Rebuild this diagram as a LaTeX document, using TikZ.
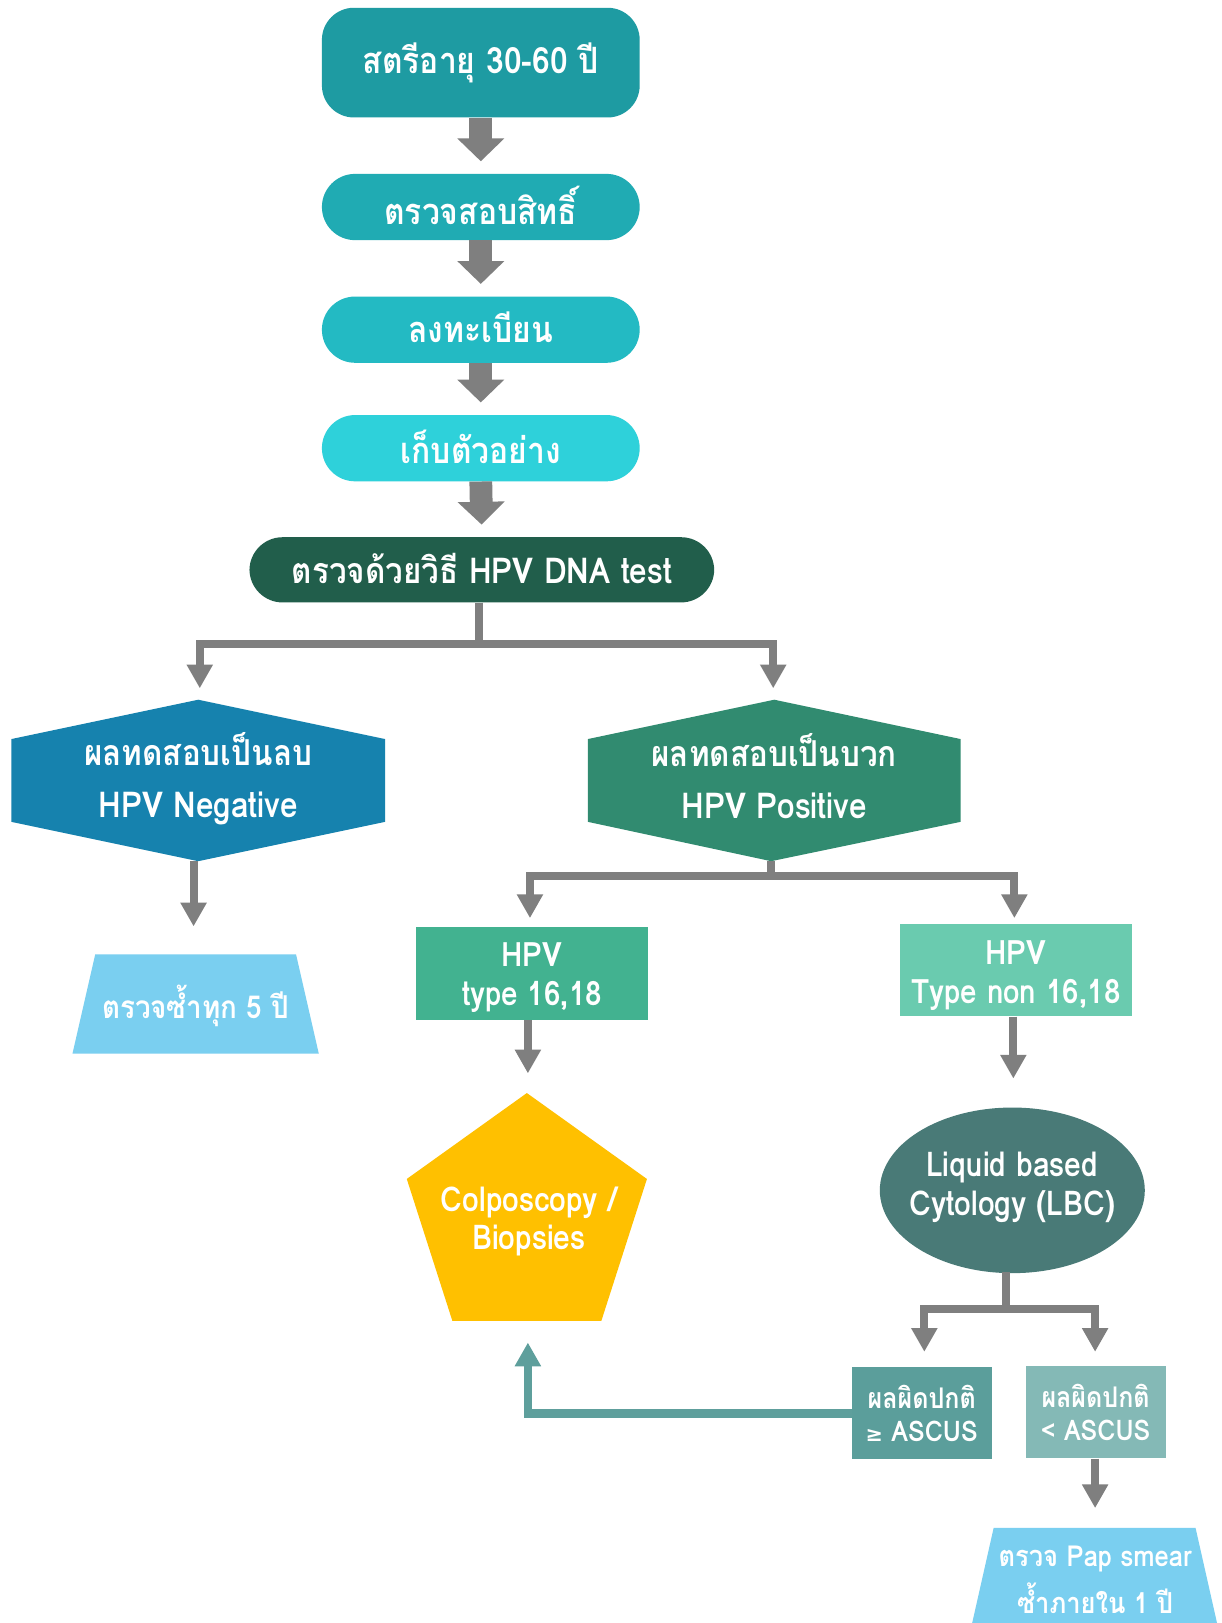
\documentclass[tikz,border=0pt]{standalone}
\usepackage{fontspec}
\newfontfamily\thf[Script=Thai,FakeStretch=0.88]{Loma}
\newfontfamily\symf{DejaVu Sans}
\usetikzlibrary{arrows.meta,shapes.geometric}
\definecolor{cA}{HTML}{1E9BA2}
\definecolor{cB}{HTML}{20ABB3}
\definecolor{cC}{HTML}{23BAC3}
\definecolor{cD}{HTML}{2ED1DA}
\definecolor{cE}{HTML}{215E4B}
\definecolor{cNeg}{HTML}{1682AE}
\definecolor{cPos}{HTML}{318B70}
\definecolor{cT1}{HTML}{42B290}
\definecolor{cT2}{HTML}{6ACBAF}
\definecolor{cPent}{HTML}{FFC000}
\definecolor{cLbc}{HTML}{497A77}
\definecolor{cGe}{HTML}{5B9E9B}
\definecolor{cLt}{HTML}{84B9B6}
\definecolor{cSky}{HTML}{7ACFF0}
\definecolor{cGray}{HTML}{7F7F7F}
\definecolor{cRet}{HTML}{5E9F9C}
\begin{document}
\begin{tikzpicture}[x=1pt,y=-1pt,
  txt/.style={text=white, align=center, inner sep=0pt},
  pill/.style={txt, rounded corners=32pt, minimum width=307pt, minimum height=64pt,
    font=\thf\bfseries\fontsize{35}{40}\selectfont},
  bigarrow/.style={draw=cGray, line width=22pt, -{Triangle[width=44pt,length=22pt]}, shorten >=12pt},
  thinarrow/.style={draw=cGray, line width=7.7pt, -{Triangle[width=24pt,length=23pt]}},
  retarrow/.style={draw=cRet, line width=8pt, -{Triangle[width=24pt,length=23pt]}},
  rectbox/.style={inner sep=0pt, minimum width=224pt, minimum height=89pt},
  recttext/.style={txt, font=\thf\bfseries\fontsize{32.5}{38}\selectfont},
  smallbox/.style={txt, minimum width=135pt, minimum height=89pt, font=\thf\bfseries\fontsize{27.5}{32}\selectfont}
]
\useasboundingbox (0,0) rectangle (1180,1568);
\fill[white] (0,0) rectangle (1180,1568);

% top column
\node[pill, fill=cA, rounded corners=31pt, minimum height=106pt] (b1) at (464.5,60.5) {สตรีอายุ 30-60 ปี};
\node[pill, fill=cB] (b2) at (464.5,200) {\raisebox{4pt}{ตรวจสอบสิทธิ์}};
\node[pill, fill=cC] (b3) at (464.5,318.5) {\raisebox{4pt}{ลงทะเบียน}};
\node[pill, fill=cD] (b4) at (464.5,433) {\raisebox{3pt}{เก็บตัวอย่าง}};
\node[pill, fill=cE, minimum width=449pt, minimum height=63pt, font=\thf\bfseries\fontsize{34.5}{40}\selectfont] (b5) at (465.5,550.5) {\raisebox{2pt}{ตรวจด้วยวิธี HPV DNA test}};

\draw[bigarrow] (b1.south) -- (b2.north);
\draw[bigarrow] (b2.south) -- (b3.north);
\draw[bigarrow] (b3.south) -- (b4.north);
\draw[bigarrow] (b4.south) -- (b5.north);

% hexagons
\fill[cNeg] (11,714) -- (191.5,676) -- (372,714) -- (372,794) -- (191.5,832) -- (11,794) -- cycle;
\fill[cPos] (568,714) -- (748,676) -- (928,714) -- (928,794) -- (745,832) -- (568,794) -- cycle;
\node[txt, font=\thf\bfseries\fontsize{34.5}{50}\selectfont] (neg) at (191.5,752) {ผลทดสอบเป็นลบ\\HPV Negative};
\node[txt, font=\thf\bfseries\fontsize{34.5}{50}\selectfont] (pos) at (748,750) {ผลทดสอบเป็นบวก\\HPV Positive};
\coordinate (negin) at (193,665);
\coordinate (posin) at (747,665);
\coordinate (negout) at (187,832);
\coordinate (posout) at (745,832);
\coordinate (split1) at (463,622);

\draw[thinarrow] (b5.south -| split1) -- (split1) -| (negin);
\draw[thinarrow] (b5.south -| split1) -- (split1) -| (posin);

% negative branch
\coordinate (rep5in) at (187,895);
\draw[thinarrow] (negout) -- (rep5in);
\fill[cSky] (92,922) -- (286,922) -- (308,1018) -- (70,1018) -- cycle;
\node[txt, font=\thf\bfseries\fontsize{30.5}{36}\selectfont] (rep5) at (189,972) {ตรวจซ้ำทุก 5 ปี};

% positive branch
\node[rectbox, fill=cT1] (t1) at (514,940.5) {};
\node[recttext] (t1t) at (514,944.5) {HPV\\type 16,18};
\node[rectbox, fill=cT2] (t2) at (981.5,937.5) {};
\node[recttext] (t2t) at (981.5,942.5) {HPV\\Type non 16,18};
\coordinate (split2) at (745,846);
\coordinate (t1in) at (512,887);
\coordinate (t2in) at (980,887);
\draw[thinarrow] (posout) -- (split2) -| (t1in);
\draw[thinarrow] (posout) -- (split2) -| (t2in);

% pentagon
\fill[cPent] (509,1056) -- (625,1139) -- (581,1276) -- (437,1276) -- (393,1139) -- cycle;
\node[txt, font=\thf\bfseries\fontsize{33}{36}\selectfont] (colpo) at (511,1180) {Colposcopy /\\Biopsies};
\coordinate (colin) at (510,1037);
\coordinate (colbot) at (510,1297);
\draw[thinarrow] (t1.south -| colin) -- (colin);

% LBC
\node[ellipse, fill=cLbc, minimum width=256pt, minimum height=160pt, inner sep=0pt] (lbc) at (978,1150) {};
\node[txt, font=\thf\bfseries\fontsize{33}{37}\selectfont] (lbct) at (978,1147) {Liquid based\\Cytology (LBC)};
\coordinate (lbcin) at (979,1042);
\draw[thinarrow] (t2.south -| lbcin) -- (lbcin);
\coordinate (lbcout) at (972,1229);
\coordinate (split3) at (972,1265);
\coordinate (gein) at (893,1306);
\coordinate (ltin) at (1058,1306);
\draw[thinarrow] (lbcout) -- (split3) -| (gein);
\draw[thinarrow] (lbcout) -- (split3) -| (ltin);

\node[smallbox, fill=cGe] (ge) at (890.5,1365.5) {ผลผิดปกติ\\{\symf\fontsize{20}{32}\selectfont ≥} ASCUS};
\node[smallbox, fill=cLt] (lt) at (1058.5,1364.5) {ผลผิดปกติ\\< ASCUS};

\draw[retarrow] (ge.west) -| (colbot);

\coordinate (papin) at (1058,1457);
\draw[thinarrow] (lt.south -| papin) -- (papin);
\fill[cSky] (960,1476) -- (1155,1476) -- (1183,1600) -- (932,1600) -- cycle;
\node[txt, font=\thf\bfseries\fontsize{28}{45}\selectfont] (pap) at (1058,1526) {ตรวจ Pap smear\\ซ้ำภายใน 1 ปี};
\end{tikzpicture}
\end{document}
